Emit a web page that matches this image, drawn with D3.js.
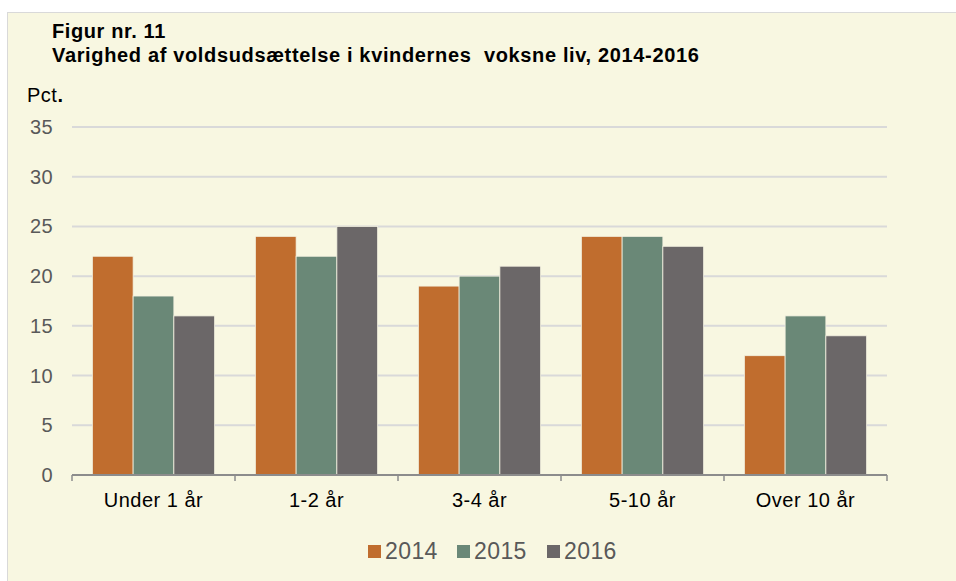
<!DOCTYPE html>
<html>
<head>
<meta charset="utf-8">
<script src="https://cdn.jsdelivr.net/npm/d3@7"></script>
<style>
  body { margin: 0; background: #fff; }
  svg { display: block; font-family: "Liberation Sans", Arial, sans-serif; }
</style>
</head>
<body>
<svg id="chart" width="956" height="581"></svg>
<script>
const categories = ["Under 1 år", "1-2 år", "3-4 år", "5-10 år", "Over 10 år"];
const years = ["2014", "2015", "2016"];
const values2014 = [22, 24, 19, 24, 12];
const values2015 = [18, 22, 20, 24, 16];
const values2016 = [16, 25, 21, 23, 14];
const yTicks = [0, 5, 10, 15, 20, 25, 30, 35];
const colors = ["#c06d2e", "#6a8877", "#6b6768"];

const series = [values2014, values2015, values2016];
const data = categories.map((c, i) => ({
    cat: c,
    vals: series.map((s, j) => ({ year: years[j], v: s[i] }))
}));

const svg = d3.select("#chart");

// panel
svg.append("rect")
    .attr("x", 7.5).attr("y", 12.5)
    .attr("width", 960).attr("height", 580)
    .attr("fill", "#f8f7e1")
    .attr("stroke", "#d9d9d9");

svg.append("text").attr("x", 52).attr("y", 38)
    .attr("font-size", 20).attr("font-weight", "bold").attr("fill", "#000")
    .attr("letter-spacing", 0.6)
    .text("Figur nr. 11");
svg.append("text").attr("x", 52).attr("y", 62)
    .attr("font-size", 20).attr("font-weight", "bold").attr("fill", "#000")
    .attr("letter-spacing", 0.65)
    .style("white-space", "pre")
    .text("Varighed af voldsudsættelse i kvindernes  voksne liv, 2014-2016");

const pct = svg.append("text").attr("x", 27).attr("y", 102)
    .attr("font-size", 20).attr("fill", "#000").attr("letter-spacing", 0.5);
pct.append("tspan").text("Pct");
pct.append("tspan").attr("font-weight", "bold").text(".");

const plotLeft = 72, plotRight = 887, plotTop = 127, plotBottom = 475;

const x = d3.scaleBand().domain(categories).range([plotLeft, plotRight]).paddingInner(0).paddingOuter(0);
const x1 = d3.scaleBand().domain(years).range([0, x.bandwidth()]).paddingOuter(0.5).paddingInner(0);
const y = d3.scaleLinear().domain([0, 35]).range([plotBottom, plotTop]);

// grid
svg.append("g").selectAll("line").data(yTicks.filter(t => t > 0)).join("line")
    .attr("x1", plotLeft).attr("x2", plotRight)
    .attr("y1", d => y(d)).attr("y2", d => y(d))
    .attr("stroke", "#d9d9d9").attr("stroke-width", 2);

// y labels
svg.append("g").selectAll("text").data(yTicks).join("text")
    .attr("x", 53).attr("y", d => y(d) + 7)
    .attr("text-anchor", "end")
    .attr("font-size", 20).attr("fill", "#595959").attr("letter-spacing", 0.4)
    .text(d => d);

// bars
const groups = svg.append("g").selectAll("g").data(data).join("g")
    .attr("transform", d => `translate(${x(d.cat)},0)`);
groups.selectAll("rect").data(d => d.vals).join("rect")
    .attr("x", d => x1(d.year))
    .attr("y", d => y(d.v))
    .attr("width", x1.bandwidth())
    .attr("height", d => y(0) - y(d.v))
    .attr("fill", (d, i) => colors[i])
    .attr("stroke", "#f3f1e0")
    .attr("stroke-width", 0.8);

// x axis
const xAxis = svg.append("g");
xAxis.append("line")
    .attr("x1", plotLeft).attr("x2", plotRight)
    .attr("y1", plotBottom).attr("y2", plotBottom)
    .attr("stroke", "#8c8c8c").attr("stroke-width", 2);
const tickPos = categories.map(c => x(c)).concat([plotRight]);
xAxis.selectAll("line.tick").data(tickPos).join("line")
    .attr("class", "tick")
    .attr("x1", d => d).attr("x2", d => d)
    .attr("y1", plotBottom).attr("y2", plotBottom + 6)
    .attr("stroke", "#8c8c8c").attr("stroke-width", 1.5);
xAxis.selectAll("text").data(categories).join("text")
    .attr("x", d => x(d) + x.bandwidth() / 2)
    .attr("y", 507)
    .attr("text-anchor", "middle")
    .attr("font-size", 20).attr("fill", "#000").attr("letter-spacing", 0.5)
    .text(d => d);

// legend
const legend = svg.append("g");
const legX = [368, 457, 547];
years.forEach((yr, i) => {
    legend.append("rect")
        .attr("x", legX[i]).attr("y", 545)
        .attr("width", 13).attr("height", 13)
        .attr("fill", colors[i]);
    legend.append("text")
        .attr("x", legX[i] + 17).attr("y", 559)
        .attr("font-size", 23).attr("fill", "#595959").attr("letter-spacing", 0.4)
        .text(yr);
});
</script>
</body>
</html>
